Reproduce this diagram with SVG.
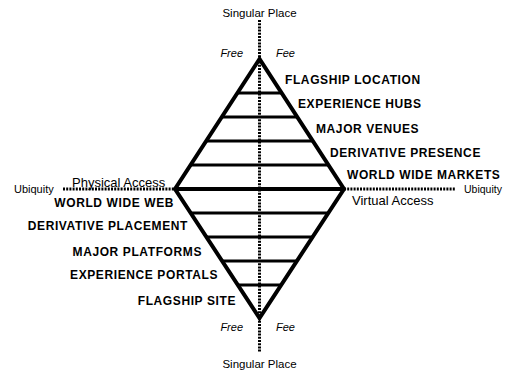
<svg xmlns="http://www.w3.org/2000/svg" width="506" height="374" viewBox="0 0 506 374">
<style>
.lbl{font-family:"Liberation Sans",Arial,sans-serif;font-weight:bold;font-size:12px;letter-spacing:0.6px;fill:#000}
.reg{font-family:"Liberation Sans",Arial,sans-serif;font-size:13px;fill:#000}
.sm{font-family:"Liberation Sans",Arial,sans-serif;font-size:11px;fill:#000}
.it{font-family:"Liberation Sans",Arial,sans-serif;font-size:11px;font-style:italic;fill:#000}
.dot{stroke:#000;stroke-width:3;stroke-dasharray:2 1.2;fill:none}
.edge{stroke:#000;stroke-width:4;fill:none;stroke-linejoin:miter;stroke-miterlimit:10}
.rung{stroke:#000;stroke-width:3}
</style>
<rect width="506" height="374" fill="#fff"/>
<g id="connectors">
<line class="dot" x1="259.5" y1="20" x2="259.5" y2="352"/>
<line class="dot" x1="63" y1="189" x2="175" y2="189"/>
<line class="dot" x1="344" y1="189" x2="456" y2="189"/>
</g>
<g id="diamond">
<path class="edge" d="M259.5 59 L175 189 L259.5 318 L344 189 Z"/>
<line class="rung" x1="237" y1="93" x2="282" y2="93"/>
<line class="rung" x1="221.5" y1="117" x2="297.5" y2="117"/>
<line class="rung" x1="206" y1="141" x2="313" y2="141"/>
<line class="rung" x1="190.5" y1="165" x2="328.5" y2="165"/>
<line class="rung" style="stroke-width:4" x1="175" y1="189" x2="344" y2="189"/>
<line class="rung" x1="190.5" y1="213" x2="328.5" y2="213"/>
<line class="rung" x1="206" y1="237" x2="313" y2="237"/>
<line class="rung" x1="222" y1="261" x2="297" y2="261"/>
<line class="rung" x1="237.5" y1="285" x2="281.5" y2="285"/>
</g>
<g id="top-label">
<text class="sm" x="259.5" y="17" text-anchor="middle" style="font-size:11.5px">Singular Place</text>
<text class="it" x="243" y="57" text-anchor="end">Free</text>
<text class="it" x="276" y="57">Fee</text>
</g>
<g id="bottom-label">
<text class="it" x="243" y="331" text-anchor="end">Free</text>
<text class="it" x="276" y="331">Fee</text>
<text class="sm" x="259.5" y="368" text-anchor="middle" style="font-size:11.5px">Singular Place</text>
</g>
<g id="left-label">
<text class="sm" x="14" y="193">Ubiquity</text>
<text class="reg" x="72" y="187">Physical Access</text>
</g>
<g id="right-label">
<text class="sm" x="464" y="193" style="font-size:10.5px">Ubiquity</text>
<text class="reg" x="352" y="205">Virtual Access</text>
</g>
<g id="right-tiers">
<text class="lbl" x="285" y="84">FLAGSHIP LOCATION</text>
<text class="lbl" x="298" y="108">EXPERIENCE HUBS</text>
<text class="lbl" x="316" y="133">MAJOR VENUES</text>
<text class="lbl" x="330" y="157">DERIVATIVE PRESENCE</text>
<text class="lbl" x="347" y="179">WORLD WIDE MARKETS</text>
</g>
<g id="left-tiers">
<text class="lbl" x="174" y="207" text-anchor="end">WORLD WIDE WEB</text>
<text class="lbl" x="188" y="229.5" text-anchor="end">DERIVATIVE PLACEMENT</text>
<text class="lbl" x="202" y="256" text-anchor="end">MAJOR PLATFORMS</text>
<text class="lbl" x="218" y="279" text-anchor="end">EXPERIENCE PORTALS</text>
<text class="lbl" x="236" y="305" text-anchor="end">FLAGSHIP SITE</text>
</g>
</svg>
